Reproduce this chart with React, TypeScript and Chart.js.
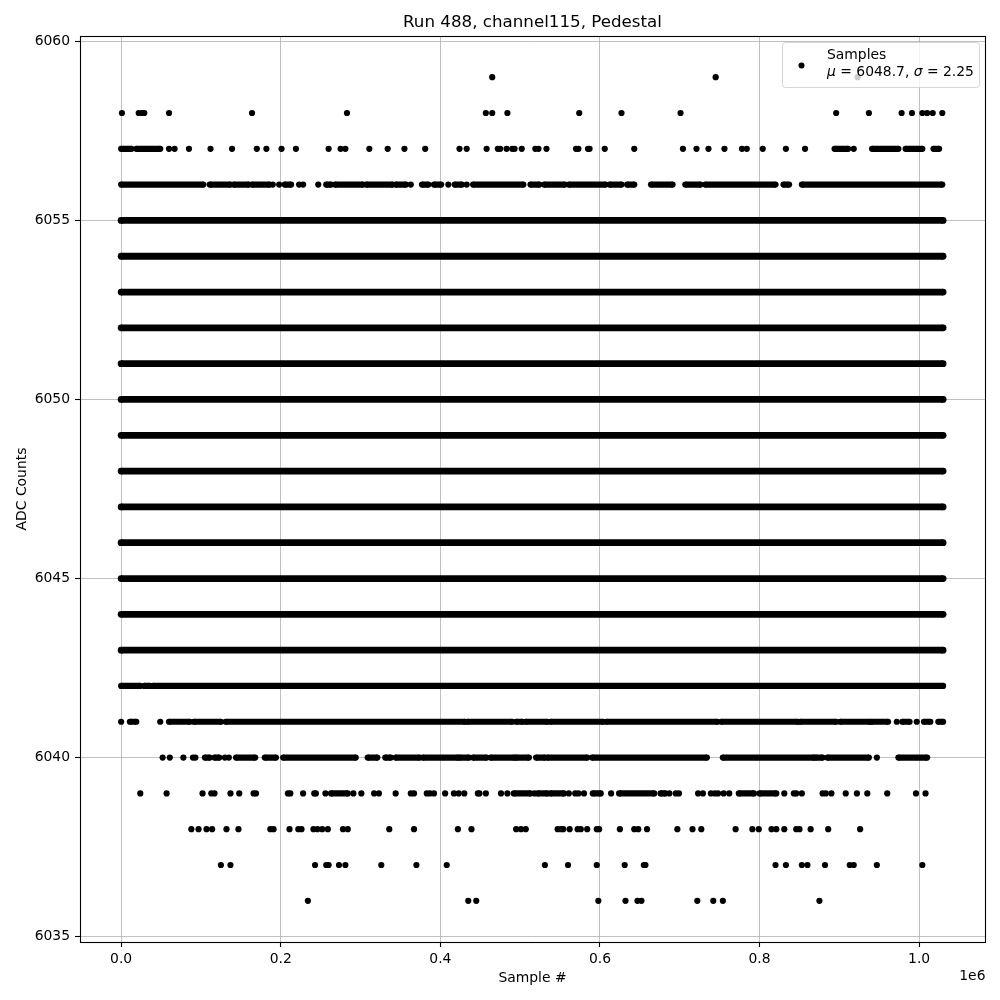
import React, { useEffect, useRef } from 'react';
import { Chart, registerables } from 'chart.js';

Chart.register(...registerables);

const FONT = 'DejaVu Sans';
const TITLE = 'Run 488, channel115, Pedestal';
const X_LABEL = 'Sample #';
const Y_LABEL = 'ADC Counts';
const X_OFFSET_LABEL = '1e6';
const LEGEND_LABEL = 'Samples';
const LEGEND_MU = '6048.7';
const LEGEND_SIGMA = '2.25';

// x values are in thousands of samples (axis shows units of 1e6)
const xTickValues = [0, 200, 400, 600, 800, 1000];
const xTickLabels = ['0.0', '0.2', '0.4', '0.6', '0.8', '1.0'];
const yTickValues = [6035, 6040, 6045, 6050, 6055, 6060];
const yTickLabels = ['6035', '6040', '6045', '6050', '6055', '6060'];

// Each row: single samples (number) or dense runs [start, end] at one ADC level
type Item = number | [number, number];

const fullLevels = [6043, 6044, 6045, 6046, 6047, 6048, 6049, 6050, 6051, 6052, 6053, 6054, 6055];
const fullRow: Item[] = [[0, 1030]];

const row6059: Item[] = [465, 745, 923];
const row6058: Item[] = [1, 22, 26, 29, 60, 164, 283, 457, 465, 484, 574, 627, 701, 896, 937, 978, 991, 1004, 1010, 1017, 1029];
const row6057: Item[] = [[0, 13], [19, 49], 60, 67, 85, 112, 139, 170, 182, 201, 219, 260, 275, 281, 311, 334, 355, 381, 424, 433, 458, 472, 475, 483, 490, 493, 502, 519, 523, 533, 570, 573, 585, 587, 606, 643, 704, 721, 736, 756, 778, 784, 804, 833, 857, [894, 911], 918, [941, 974], [983, 1004], [1018, 1025]];
const row6056: Item[] = [[0, 103], [111, 137], [141, 160], [164, 186], 190, 198, [205, 213], 223, 228, 247, [257, 263], [268, 303], [307, 340], [344, 357], 363, [377, 385], [392, 401], 410, [418, 427], 433, [441, 504], [513, 524], [530, 556], [561, 607], [612, 627], [634, 643], [664, 691], [707, 726], [732, 820], [830, 837], [853, 1029]];
const row6042: Item[] = [[0, 24], [29, 36], [40, 1030]];
const row6041: Item[] = [0, [11, 19], 49, [60, 86], [91, 125], [131, 431], [434, 490], [495, 503], [507, 534], [538, 604], [608, 747], [752, 848], [851, 896], [901, 938], [940, 961], 972, [979, 988], 997, [1006, 1014], [1024, 1030]];
const row6040: Item[] = [52, 61, 78, 90, 93, [105, 111], [117, 123], 130, 135, [144, 168], [180, 194], [203, 294], [309, 321], [331, 338], [344, 374], [378, 422], [424, 436], [441, 458], [463, 493], [495, 511], [520, 531], [534, 584], [590, 734], [754, 868], [870, 879], [885, 937], 947, [974, 1010]];
const row6039: Item[] = [24, 57, 102, 113, 117, 137, 148, 166, 169, 209, 212, 228, 242, 244, 256, [263, 284], 291, 301, 317, 323, 344, 363, 367, 383, 387, 392, 406, 417, 423, 430, 447, 449, 457, 476, 484, [492, 513], 518, [522, 534], [538, 555], 561, 569, 573, 580, [591, 601], 614, [624, 668], [676, 682], 687, 695, 699, 723, 729, 739, 744, 748, 755, 762, [774, 793], [800, 821], 831, 843, 846, 853, 879, 883, 890, 908, 922, 935, 960, 996, 1008];
const row6038: Item[] = [88, 97, 107, 114, 132, 147, 187, 191, 211, 222, 226, 241, 246, 252, 259, 278, 284, 336, 367, 422, 439, 495, 501, 507, 547, 551, 554, 562, 572, 576, 584, 596, 599, 625, 643, 648, 659, 697, 716, 727, 770, 791, 799, 815, 821, 831, 846, 850, 864, 886, 926];
const row6037: Item[] = [125, 137, 243, 257, 260, 273, 281, 326, 370, 408, 531, 560, 596, 631, 655, 657, 820, 833, 853, 860, 882, 913, 918, 947, 1004];
const row6036: Item[] = [234, 435, 445, 598, 632, 647, 652, 722, 742, 754, 875];

const sparseRows: [number, Item[]][] = [
  [6059, row6059],
  [6058, row6058],
  [6057, row6057],
  [6056, row6056],
  [6042, row6042],
  [6041, row6041],
  [6040, row6040],
  [6039, row6039],
  [6038, row6038],
  [6037, row6037],
  [6036, row6036],
];

function buildPoints(level: number, items: Item[]) {
  const pts: { x: number; y: number | null }[] = [];
  for (const it of items) {
    if (Array.isArray(it)) {
      pts.push({ x: it[0], y: level }, { x: it[1], y: level }, { x: it[1], y: null });
    } else {
      pts.push({ x: it, y: level }, { x: it, y: null });
    }
  }
  return pts;
}

const decorPlugin = {
  id: 'decor',
  afterDraw(chart: any) {
    const ctx: CanvasRenderingContext2D = chart.ctx;
    const a = chart.chartArea;
    ctx.save();
    // frame (spines)
    ctx.strokeStyle = '#000';
    ctx.lineWidth = 1.1;
    ctx.strokeRect(a.left + 0.5, a.top + 0.5, a.right - a.left, a.bottom - a.top);

    ctx.fillStyle = '#000';
    // title
    ctx.font = `16.7px "${FONT}"`;
    ctx.textAlign = 'center';
    ctx.textBaseline = 'alphabetic';
    ctx.fillText(TITLE, (a.left + a.right) / 2, 27);

    // x label
    ctx.font = `13.9px "${FONT}"`;
    ctx.fillText(X_LABEL, (a.left + a.right) / 2, 982);

    // offset label
    ctx.textAlign = 'right';
    ctx.fillText(X_OFFSET_LABEL, a.right + 0.5, 980);

    // y label
    ctx.save();
    ctx.translate(26, (a.top + a.bottom) / 2);
    ctx.rotate(-Math.PI / 2);
    ctx.textAlign = 'center';
    ctx.fillText(Y_LABEL, 0, 0);
    ctx.restore();

    // legend
    const lx = 782.5, ly = 42.5, lw = 197, lh = 45, r = 3;
    ctx.beginPath();
    ctx.moveTo(lx + r, ly);
    ctx.lineTo(lx + lw - r, ly);
    ctx.arcTo(lx + lw, ly, lx + lw, ly + r, r);
    ctx.lineTo(lx + lw, ly + lh - r);
    ctx.arcTo(lx + lw, ly + lh, lx + lw - r, ly + lh, r);
    ctx.lineTo(lx + r, ly + lh);
    ctx.arcTo(lx, ly + lh, lx, ly + lh - r, r);
    ctx.lineTo(lx, ly + r);
    ctx.arcTo(lx, ly, lx + r, ly, r);
    ctx.closePath();
    ctx.fillStyle = 'rgba(255,255,255,0.8)';
    ctx.fill();
    ctx.strokeStyle = 'rgba(204,204,204,0.8)';
    ctx.lineWidth = 1;
    ctx.stroke();

    ctx.fillStyle = '#000';
    ctx.beginPath();
    ctx.arc(801.5, 65.5, 3, 0, Math.PI * 2);
    ctx.fill();

    ctx.textAlign = 'left';
    ctx.font = `13.9px "${FONT}"`;
    ctx.fillText(LEGEND_LABEL, 827, 59);

    const parts: [string, boolean][] = [
      ['\u03bc', true],
      [' = ' + LEGEND_MU + ', ', false],
      ['\u03c3', true],
      [' = ' + LEGEND_SIGMA, false],
    ];
    let tx = 827;
    for (const [txt, italic] of parts) {
      ctx.font = `${italic ? 'italic ' : ''}13.9px "${FONT}"`;
      ctx.fillText(txt, tx, 76);
      tx += ctx.measureText(txt).width;
    }
    ctx.restore();
  },
};

export default function App() {
  const canvasRef = useRef<HTMLCanvasElement | null>(null);

  useEffect(() => {
    const canvas = canvasRef.current;
    if (!canvas) return;

    const datasets: any[] = [];
    for (const lvl of fullLevels) {
      datasets.push({ label: LEGEND_LABEL, data: buildPoints(lvl, fullRow), borderWidth: 6.8, pointRadius: 3.4 });
    }
    for (const [lvl, items] of sparseRows) {
      datasets.push({ label: LEGEND_LABEL, data: buildPoints(lvl, items), borderWidth: 6.2, pointRadius: 3.1 });
    }
    for (const ds of datasets) {
      Object.assign(ds, {
        showLine: true,
        spanGaps: false,
        borderColor: '#000',
        backgroundColor: '#000',
        borderCapStyle: 'butt',
        pointHoverRadius: ds.pointRadius,
        pointBorderWidth: 0,
        pointBackgroundColor: '#000',
        tension: 0,
      });
    }

    const tickFont = { family: FONT, size: 13.9 };

    const chart = new Chart(canvas, {
      type: 'scatter',
      data: { datasets },
      plugins: [decorPlugin],
      options: {
        responsive: false,
        animation: false,
        events: [],
        layout: { padding: { top: 36, right: 15, left: 0, bottom: 0 } },
        plugins: {
          legend: { display: false },
          title: { display: false },
          tooltip: { enabled: false },
        },
        scales: {
          x: {
            type: 'linear',
            min: -51.55,
            max: 1082.5,
            afterFit: (s: any) => {
              s.height = 58;
            },
            afterBuildTicks: (s: any) => {
              s.ticks = xTickValues.map((v) => ({ value: v }));
            },
            ticks: {
              callback: (v: any) => xTickLabels[xTickValues.indexOf(Number(v))],
              font: tickFont,
              color: '#000',
              padding: 4,
              maxRotation: 0,
              autoSkip: false,
            },
            grid: {
              color: '#b0b0b0',
              lineWidth: 0.8,
              tickColor: '#000',
              tickLength: 5,
              tickWidth: 1.1,
            },
            border: { display: false },
          },
          y: {
            type: 'linear',
            min: 6034.85,
            max: 6060.15,
            afterFit: (s: any) => {
              s.width = 80;
            },
            afterBuildTicks: (s: any) => {
              s.ticks = yTickValues.map((v) => ({ value: v }));
            },
            ticks: {
              callback: (v: any) => yTickLabels[yTickValues.indexOf(Number(v))],
              font: tickFont,
              color: '#000',
              padding: 5,
              autoSkip: false,
            },
            grid: {
              color: '#b0b0b0',
              lineWidth: 0.8,
              tickColor: '#000',
              tickLength: 5,
              tickWidth: 1.1,
            },
            border: { display: false },
          },
        },
      } as any,
    });

    return () => {
      chart.destroy();
    };
  }, []);

  return (
    <div style={{ position: 'absolute', left: 0, top: 0, width: 1000, height: 1000, background: '#fff' }}>
      <canvas ref={canvasRef} width={1000} height={1000} style={{ display: 'block' }} />
    </div>
  );
}
